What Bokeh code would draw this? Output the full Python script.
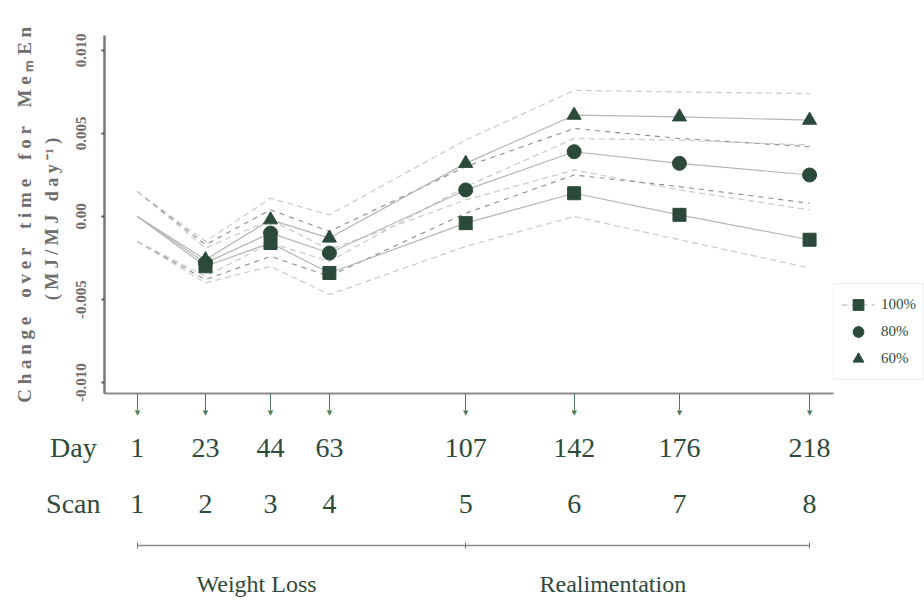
from bokeh.plotting import figure
from bokeh.models import (LinearAxis, Range1d, FixedTicker, Title, Legend,
                          LegendItem, Grid)
from bokeh.embed import file_html
from bokeh.resources import INLINE

# ---------------- data ----------------
days = [1, 23, 44, 63, 107, 142, 176, 218]
scans = [1, 2, 3, 4, 5, 6, 7, 8]

# mean change over time for each feeding level
pct100 = [0.0, -0.0030, -0.0016, -0.0034, -0.0004, 0.0014, 0.0001, -0.0014]
pct80 = [0.0, -0.0028, -0.0010, -0.0022, 0.0016, 0.0039, 0.0032, 0.0025]
pct60 = [0.0, -0.0026, -0.0002, -0.0013, 0.0032, 0.0061, 0.0060, 0.0058]

# dashed confidence bands
pct100_hi = [0.0015, -0.0019, -0.0002, -0.0020, 0.0010, 0.0028, 0.0016, 0.0004]
pct100_lo = [-0.0015, -0.0040, -0.0030, -0.0047, -0.0018, 0.0000, -0.0014, -0.0031]
pct80_hi = [0.0015, -0.0017, 0.0004, -0.0009, 0.0030, 0.0053, 0.0047, 0.0042]
pct80_lo = [-0.0015, -0.0038, -0.0024, -0.0036, 0.0002, 0.0025, 0.0018, 0.0008]
pct60_hi = [0.0015, -0.0015, 0.0011, 0.0001, 0.0046, 0.0076, 0.0075, 0.0074]
pct60_lo = [-0.0015, -0.0036, -0.0016, -0.0027, 0.0018, 0.0047, 0.0046, 0.0043]

series_labels = ["100%", "80%", "60%"]
y_ticks = [-0.010, -0.005, 0.0, 0.005, 0.010]
y_tick_labels = ["-0.010", "-0.005", "0.00", "0.005", "0.010"]

row_names = ["Day", "Scan"]
phase_bounds = [1, 107, 218]
phase_labels = ["Weight Loss", "Realimentation"]

# ---------------- styling / layout ----------------
GREEN = "#2c4a3b"
TXT = "#2f4a3c"
GREY_TXT = "#6e6e6e"
SERIF = "Liberation Serif"
NB = "\u00a0"
x_lo, x_axis_end, x_hi = -9.6, 225.7, 255.1   # axis line stops short of the legend
phase_label_pos = [39.5, 154.5]   # where the phase names sit on the day scale
row_name_pos = -9.5               # row names hang off the left end of the day scale
row_pad = NB * 9                  # pushes the row names left of the y axis

W, H = 924, 605
p = figure(width=W, height=H, output_backend="svg", toolbar_location=None,
           x_range=Range1d(x_lo, x_hi), y_range=Range1d(-0.01066, 0.0109),
           x_axis_location=None, y_axis_location=None,
           min_border_left=104, min_border_right=0, min_border_top=35,
           min_border_bottom=212)
p.outline_line_color = None
p.center = [r for r in p.center if not isinstance(r, Grid)]

# ---------------- y axis ----------------
yax = LinearAxis(ticker=FixedTicker(ticks=y_ticks),
                 major_label_overrides=dict(zip(y_ticks, y_tick_labels)),
                 axis_line_color="#7a7a7a", axis_line_width=2.5,
                 major_tick_out=3, major_tick_in=0, major_tick_line_width=2,
                 major_tick_line_color="#555555", minor_tick_line_color=None,
                 major_label_orientation="vertical", major_label_standoff=15,
                 major_label_text_font=SERIF, major_label_text_font_size="15px",
                 major_label_text_font_style="bold", major_label_text_color=GREY_TXT,
                 axis_label="( M J  /  M J " + NB * 2 + "d a y \u207b\u00b9 )",
                 axis_label_standoff=12, axis_label_text_font=SERIF,
                 axis_label_text_font_size="18px", axis_label_text_font_style="bold",
                 axis_label_text_color=GREY_TXT)
p.add_layout(yax, "left")
gap = " " + NB * 2 + " "
title_txt = gap.join([" ".join("Change"), " ".join("over"), " ".join("time"),
                      " ".join("for"), "M e \u2098 E n"])
p.add_layout(Title(text=title_txt, align="center", text_font=SERIF,
                   text_font_size="19px", text_font_style="bold",
                   text_color=GREY_TXT, standoff=8), "left")

# ---------------- x axes (arrows, day, scan, phases) ----------------
day_ticker = FixedTicker(ticks=days)
ax_arrow = LinearAxis(ticker=day_ticker, bounds=(x_lo, x_axis_end),
                      major_label_overrides={d: "\u25bc" for d in days},
                      axis_line_color="#8a8a8a", axis_line_width=2,
                      major_tick_out=17, major_tick_in=0, major_tick_line_color="#4d7a5c",
                      major_tick_line_width=1, minor_tick_line_color=None,
                      major_label_standoff=-2, major_label_text_font="DejaVu Sans",
                      major_label_text_font_size="7px", major_label_text_color="#4d7a5c")
p.add_layout(ax_arrow, "below")

day_labels = {d: str(d) for d in days}
day_labels[row_name_pos] = row_names[0] + row_pad
ax_day = LinearAxis(ticker=FixedTicker(ticks=[row_name_pos] + days),
                    major_label_overrides=day_labels,
                    axis_line_color=None, major_tick_line_color=None,
                    minor_tick_line_color=None, major_label_standoff=6,
                    major_label_text_font=SERIF, major_label_text_font_size="28px",
                    major_label_text_color=TXT)
p.add_layout(ax_day, "below")

scan_labels = {d: str(s) for d, s in zip(days, scans)}
scan_labels[row_name_pos] = row_names[1] + row_pad
ax_scan = LinearAxis(ticker=FixedTicker(ticks=[row_name_pos] + days),
                     major_label_overrides=scan_labels,
                     axis_line_color=None, major_tick_line_color=None,
                     minor_tick_line_color=None, major_label_standoff=16,
                     major_label_text_font=SERIF, major_label_text_font_size="28px",
                     major_label_text_color=TXT,
                     axis_label=NB, axis_label_standoff=0,
                     axis_label_text_font_size="19px")
p.add_layout(ax_scan, "below")

ax_phase = LinearAxis(ticker=FixedTicker(ticks=phase_bounds),
                      bounds=(phase_bounds[0], phase_bounds[-1]),
                      major_label_overrides={b: "" for b in phase_bounds},
                      major_label_text_font_size="1px",
                      axis_line_color="#8a8a8a", axis_line_width=1.5,
                      major_tick_out=3, major_tick_in=3, major_tick_line_color="#777777",
                      minor_tick_line_color=None, major_label_standoff=0)
p.add_layout(ax_phase, "below")

ax_phase_lab = LinearAxis(ticker=FixedTicker(ticks=phase_label_pos),
                          major_label_overrides=dict(zip(phase_label_pos, phase_labels)),
                          axis_line_color=None, major_tick_line_color=None,
                          minor_tick_line_color=None, major_label_standoff=16,
                          major_label_text_font=SERIF, major_label_text_font_size="24px",
                          major_label_text_color=TXT)
p.add_layout(ax_phase_lab, "below")

# ---------------- bands ----------------
light = dict(line_color="#cdcdcd", line_width=1.3, line_dash="6 4")
dark = dict(line_color="#8c8c8c", line_width=1.1, line_dash="5 5")
b100 = p.line(days, pct100_hi, **light)
p.line(days, pct100_lo, **light)
p.line(days, pct80_hi, **dark)
p.line(days, pct80_lo, **dark)
p.line(days, pct60_hi, **light)
p.line(days, pct60_lo, **light)

# ---------------- mean lines + markers ----------------
solid = dict(line_color="#b5b5b5", line_width=1.2)
p.line(days, pct100, **solid)
p.line(days, pct80, **solid)
p.line(days, pct60, **solid)
r100 = p.scatter(days[1:], pct100[1:], marker="square", size=13, color=GREEN)
r80 = p.scatter(days[1:], pct80[1:], marker="circle", size=14, color=GREEN)
r60 = p.scatter(days[1:], pct60[1:], marker="triangle", size=14, color=GREEN)

legend = Legend(items=[LegendItem(label=series_labels[0], renderers=[b100, r100]),
                       LegendItem(label=series_labels[1], renderers=[r80]),
                       LegendItem(label=series_labels[2], renderers=[r60])],
                location=(729, 13), margin=0, glyph_width=34, glyph_height=27,
                spacing=0, padding=7, label_standoff=6, label_text_font=SERIF,
                label_text_font_size="15px", label_text_color=TXT,
                border_line_color="#e2e2e2", background_fill_alpha=0)
p.add_layout(legend, "center")

open("out.html", "w").write(file_html(p, INLINE))
